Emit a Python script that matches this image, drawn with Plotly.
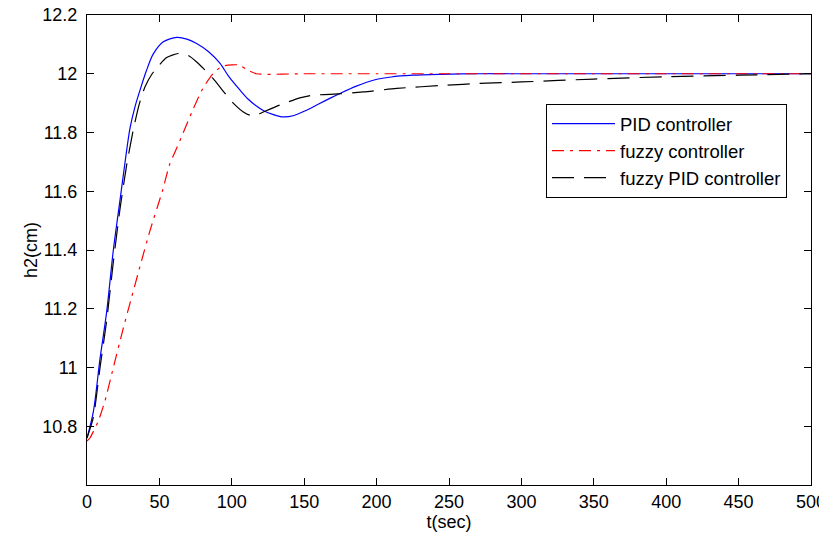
import plotly.graph_objects as go

# ---- data ----
t_pid = [0, 4.4, 9, 13.6, 18.2, 22.8, 27.4, 29.7, 33, 36.6, 41, 45.6, 52.7, 62, 69, 75.7, 84, 91.9,
         98, 105.7, 111, 117, 122, 128.7, 135.6, 143, 151.7, 160, 168, 174.7, 186, 197.7, 210, 225,
         245, 270, 300, 350, 400, 450, 500]
h_pid = [10.76, 10.85, 11.03, 11.19, 11.40, 11.57, 11.74, 11.815, 11.885, 11.944, 12.01, 12.066, 12.109,
         12.124, 12.118, 12.103, 12.075, 12.035, 11.99, 11.944, 11.915, 11.89, 11.874, 11.861, 11.853,
         11.858, 11.876, 11.897, 11.917, 11.933, 11.958, 11.978, 11.989, 11.995, 11.998, 12.0, 12.0,
         12.0, 12.0, 12.0, 12.0]

t_fuzzy = [0, 2, 7.8, 12.4, 18.2, 24.6, 30.8, 37.7, 43.5, 52, 57, 64, 73, 80, 87, 93, 100, 105,
           110, 117, 150, 200, 250, 300, 350, 400, 450, 500]
h_fuzzy = [10.75, 10.76, 10.818, 10.886, 11.0, 11.125, 11.239, 11.364, 11.466, 11.60, 11.69, 11.77,
           11.876, 11.95, 12.0, 12.025, 12.03, 12.03, 12.015, 12.0, 12.0, 12.0, 12.0, 12.0, 12.0,
           12.0, 12.0, 12.0]

t_fpid = [0, 4.4, 9, 13.6, 18.2, 22.8, 27.4, 32, 36, 40, 45, 50, 55, 63, 70, 75.7, 81, 87, 95, 101,
          108, 112.6, 118, 121.8, 133, 147, 156, 168, 190.8, 213.9, 248, 271, 300, 350, 400, 450, 500]
h_fpid = [10.76, 10.83, 11.0, 11.16, 11.36, 11.54, 11.69, 11.81, 11.895, 11.955, 12.0, 12.03, 12.055,
          12.069, 12.062, 12.04, 12.015, 11.984, 11.935, 11.90, 11.87, 11.859, 11.862, 11.87, 11.893,
          11.918, 11.927, 11.93, 11.938, 11.95, 11.961, 11.967, 11.972, 11.982, 11.99, 11.995, 12.0]

series_names = ["PID controller", "fuzzy controller", "fuzzy PID controller"]

x_ticks = [0, 50, 100, 150, 200, 250, 300, 350, 400, 450, 500]
y_ticks = [10.8, 11.0, 11.2, 11.4, 11.6, 11.8, 12.0, 12.2]
y_ticktext = ["10.8", "11", "11.2", "11.4", "11.6", "11.8", "12", "12.2"]

FONT = "Liberation Sans, Arial, sans-serif"

fig = go.Figure()
fig.add_trace(go.Scatter(x=t_pid, y=h_pid, mode="lines", name=series_names[0],
                         line=dict(color="#0000ff", width=1.2, shape="spline", smoothing=0.8)))
fig.add_trace(go.Scatter(x=t_fuzzy, y=h_fuzzy, mode="lines", name=series_names[1],
                         line=dict(color="#ff0000", width=1.2, dash="12px,6px,3px,6px",
                                   shape="spline", smoothing=0.6)))
fig.add_trace(go.Scatter(x=t_fpid, y=h_fpid, mode="lines", name=series_names[2],
                         line=dict(color="#000000", width=1.2, dash="22px,10px",
                                   shape="spline", smoothing=0.6)))

axis_common = dict(showline=True, linecolor="black", linewidth=1, mirror="ticks",
                   ticks="inside", ticklen=7, tickcolor="black", tickwidth=1,
                   showgrid=False, zeroline=False, ticklabeloverflow="allow",
                   tickfont=dict(family=FONT, size=18, color="black"))

fig.update_xaxes(range=[0, 500], tickvals=x_ticks, ticklabelstandoff=0,
                 title=dict(text="t(sec)", font=dict(family=FONT, size=18, color="black"), standoff=2),
                 **axis_common)
fig.update_yaxes(range=[10.6, 12.2], tickvals=y_ticks, ticktext=y_ticktext, ticklabelstandoff=5,
                 title=dict(text="h2(cm)", font=dict(family=FONT, size=18, color="black"), standoff=0),
                 **axis_common)

# page body has an 8px margin; figure sized/offset to compensate
fig.update_layout(
    width=819, height=524,
    margin=dict(l=79, r=16, t=7, b=47, autoexpand=False),
    paper_bgcolor="white", plot_bgcolor="white",
    font=dict(family=FONT, size=18, color="black"),
    legend=dict(x=0.634, y=0.8106, xanchor="left", yanchor="top",
                bgcolor="white", bordercolor="black", borderwidth=1,
                font=dict(family=FONT, size=18.5, color="black"),
                itemwidth=63, tracegroupgap=0),
    showlegend=True,
)

fig.write_html("out.html")
